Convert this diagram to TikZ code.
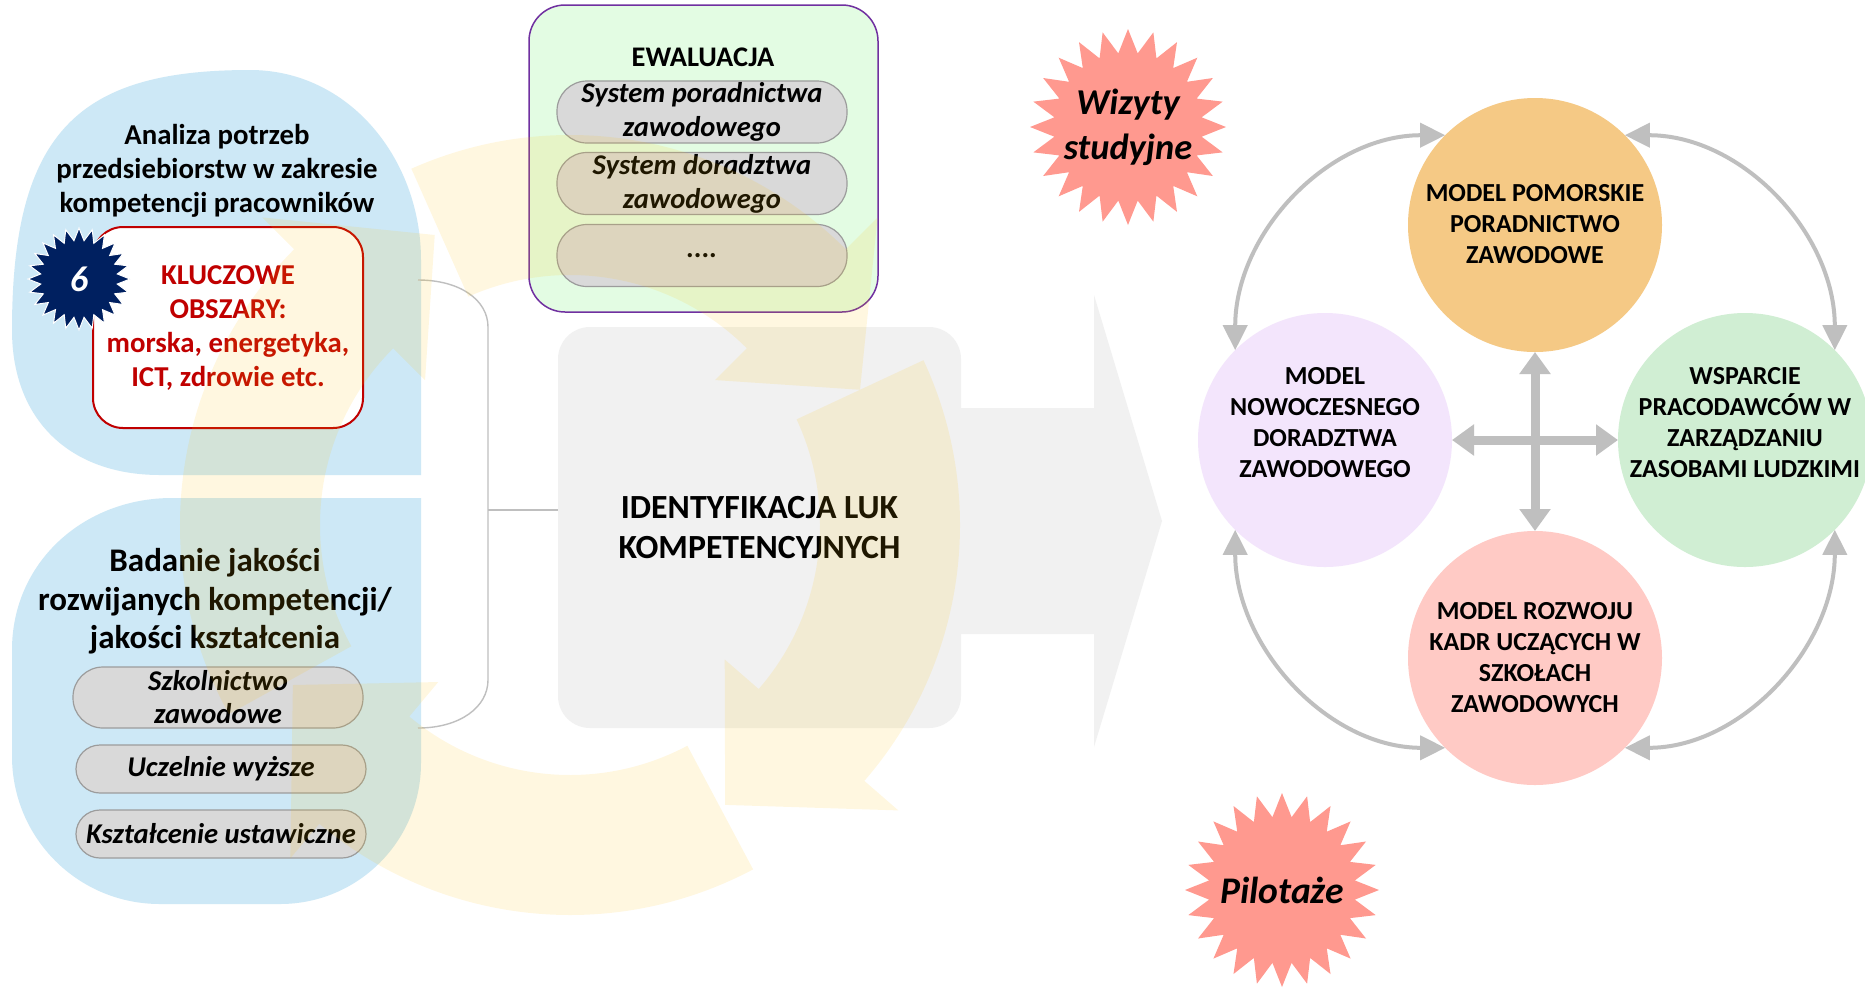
\documentclass[tikz,border=0pt]{standalone}
\usepackage{fontspec}
\setmainfont{Carlito}
\usetikzlibrary{shapes.geometric,arrows.meta,calc}
\definecolor{bluebg}{HTML}{CDE8F6}
\definecolor{yel}{HTML}{FFC000}
\definecolor{keyred}{HTML}{C00000}
\definecolor{navy}{HTML}{002060}
\definecolor{mint}{HTML}{E3FCE3}
\definecolor{purp}{HTML}{7030A0}
\definecolor{pillg}{HTML}{D9D9D9}
\definecolor{pillb}{HTML}{9C9C9C}
\definecolor{lgrey}{HTML}{F1F1F1}
\definecolor{arrg}{HTML}{BFBFBF}
\definecolor{corange}{HTML}{F5C985}
\definecolor{cpurple}{HTML}{F3E5FC}
\definecolor{cgreen}{HTML}{D0EED3}
\definecolor{cpink}{HTML}{FFCAC5}
\definecolor{salmon}{HTML}{FF998F}
\begin{document}
\begin{tikzpicture}[x=0.5pt,y=-0.5pt,
  blueshape/.style={fill=bluebg},
  conn/.style={draw=arrg, line width=0.7pt},
  pill/.style={rectangle, fill=pillg, draw=pillb, line width=0.6pt, inner sep=0pt, align=center},
  lpill/.style={pill, minimum width=145pt, font=\bfseries\itshape\fontsize{14.3}{16.5}\selectfont},
  epill/.style={pill, minimum width=145pt, minimum height=31pt, rounded corners=15pt, font=\bfseries\itshape\fontsize{14.3}{17}\selectfont},
  keybox/.style={rectangle, rounded corners=15pt, minimum width=135pt, minimum height=100.5pt, draw=keyred, line width=1pt, fill=white, text=keyred, font=\bfseries\fontsize{14.4}{17}\selectfont, align=center, inner sep=0pt},
  ewbox/.style={rectangle, rounded corners=18pt, minimum width=174.5pt, minimum height=153.5pt, fill=mint, draw=purp, line width=0.75pt},
  idlbox/.style={rectangle, rounded corners=16pt, minimum width=201.5pt, minimum height=200.5pt, fill=lgrey, inner sep=0pt, align=center, font=\bfseries\fontsize{16.9}{20}\selectfont},
  ltext/.style={align=center, font=\bfseries\fontsize{14.4}{17}\selectfont},
  circ/.style={circle, minimum size=127pt, inner sep=0pt, outer sep=0pt},
  ctext/.style={align=center, font=\bfseries\fontsize{13}{15.5}\selectfont},
  burst/.style={star, star points=24, star point ratio=1.32, inner sep=0pt, outer sep=0pt},
  stext/.style={align=center, font=\bfseries\itshape\fontsize{18.2}{22.5}\selectfont},
  yarc/.style={fill=yel, fill opacity=0.12},
  thinarr/.style={draw=arrg, line width=2pt, >={Triangle[length=12.5pt,width=12pt]}, <->},
  thickarr/.style={draw=arrg, line width=4.5pt, >={Triangle[length=11pt,width=15pt]}, <->}
]
\fill[white] (0,0) rectangle (1865,987);
\useasboundingbox (0,0) rectangle (1865,987);

% ---- left blue shapes
\fill[blueshape] (421,475) -- (160,475) .. controls (70,475) and (12,420) .. (12,330)
   .. controls (12,130) and (80,70) .. (250,70) .. controls (350,70) and (421,160) .. (421,260) -- cycle;
\fill[blueshape] (421,498) -- (421,763) .. controls (421,841) and (358,904) .. (280,904) -- (160,904)
   .. controls (78,904) and (12,838) .. (12,756) -- (12,650) .. controls (12,562) and (84,498) .. (172,498) -- cycle;

% ---- big grey arrow and identification box
\fill[lgrey] (940,408) -- (1094,408) -- (1094,295) -- (1162,521) -- (1094,747) -- (1094,634) -- (940,634) -- cycle;
\node[idlbox] (idl) at (759.5,527.5) {IDENTYFIKACJA LUK\\KOMPETENCYJNYCH};

% ---- bracket connector
\coordinate (bt) at (418,280);
\coordinate (bb) at (418,728);
\coordinate (bm) at (488,510);
\draw[conn] (bt) .. controls (460,280) and (488,300) .. (488,327) -- (488,680) .. controls (488,707) and (460,728) .. (bb);
\draw[conn] (bm) -- (bm -| idl.west);

% ---- top left content
\node[ltext] (anal) at (217,171) {Analiza potrzeb\\przedsiebiorstw w zakresie\\kompetencji pracowników};
\node[keybox] (key) at (228,327.5) {KLUCZOWE\\OBSZARY:\\morska, energetyka,\\ICT, zdrowie etc.};
\node[burst, fill=navy, draw=white, line width=0.5pt, minimum size=51pt, text=white, font=\bfseries\itshape\fontsize{18}{20}\selectfont] (six) at (79,279) {6};

% ---- bottom left content
\node[align=center, font=\bfseries\fontsize{16.5}{19.25}\selectfont] (bad) at (215,601.5) {Badanie jakości\\rozwijanych kompetencji/\\jakości kształcenia};
\node[lpill, minimum height=30.5pt, rounded corners=15pt] (szk) at (218,697.5) {Szkolnictwo\\zawodowe};
\node[lpill, minimum height=24pt, rounded corners=12pt] (ucz) at (221,769) {Uczelnie wyższe};
\node[lpill, minimum height=24pt, rounded corners=12pt] (ksz) at (221,834) {Kształcenie ustawiczne};

% ---- evaluation box
\node[ewbox] (ewal) at (703.5,158.5) {};
\node[font=\bfseries\fontsize{14.2}{16}\selectfont] (ewt) at (703,57) {EWALUACJA};
\node[epill] (sp) at (702,112) {System poradnictwa\\zawodowego};
\node[epill] (sd) at (702,183.5) {System doradztwa\\zawodowego};
\node[epill] (sx) at (702,255.5) {....};

% ---- yellow cycle arrows (translucent overlay)
\begin{scope}[shift={(570,525)}, x=0.5pt, y=0.5pt]
  \foreach \s/\b/\t in {114/45/25, 25/-41/-61, -62/-130/-150, -151/-225/-245}{
    \fill[yarc] (\s:390) arc[start angle=\s, end angle=\b, radius=390] -- (\b:435) -- (\t:320)
      -- (\b:205) -- (\b:250) arc[start angle=\b, end angle=\s, radius=250] -- cycle;
  }
\end{scope}

% ---- stars
\node[burst, fill=salmon, minimum size=98pt] (wiz) at (1128,127) {};
\node[stext] (wizt) at (1128,127.5) {Wizyty\\studyjne};
\node[burst, fill=salmon, minimum size=97pt] (pil) at (1282,890) {};
\node[stext, font=\bfseries\itshape\fontsize{18.8}{22.5}\selectfont] (pilt) at (1282,890) {Pilotaże};

% ---- circles
\node[circ, fill=corange] (T) at (1535,225) {};
\node[circ, fill=cpurple] (L) at (1325,440) {};
\node[circ, fill=cgreen] (R) at (1745,440) {};
\node[circ, fill=cpink] (B) at (1535,658) {};
\node[ctext] (Tt) at (1535,224) {MODEL POMORSKIE\\PORADNICTWO\\ZAWODOWE};
\node[ctext] (Lt) at (1325,423) {MODEL\\NOWOCZESNEGO\\DORADZTWA\\ZAWODOWEGO};
\node[ctext] (Rt) at (1745,423) {WSPARCIE\\PRACODAWCÓW W\\ZARZĄDZANIU\\ZASOBAMI LUDZKIMI};
\node[ctext] (Bt) at (1535,658) {MODEL ROZWOJU\\KADR UCZĄCYCH W\\SZKOŁACH\\ZAWODOWYCH};

% ---- arrows between circles
\draw[thinarr] (L.135) .. controls +(0,-117) and +(-117,0) .. (T.135);
\draw[thinarr] (T.45) .. controls +(117,0) and +(0,-117) .. (R.45);
\draw[thinarr] (R.-45) .. controls +(0,117) and +(117,0) .. (B.-45);
\draw[thinarr] (B.-135) .. controls +(-117,0) and +(0,117) .. (L.-135);
\draw[thickarr] (T.south) -- (B.north);
\draw[thickarr] (L.east) -- (R.west);
\end{tikzpicture}
\end{document}
